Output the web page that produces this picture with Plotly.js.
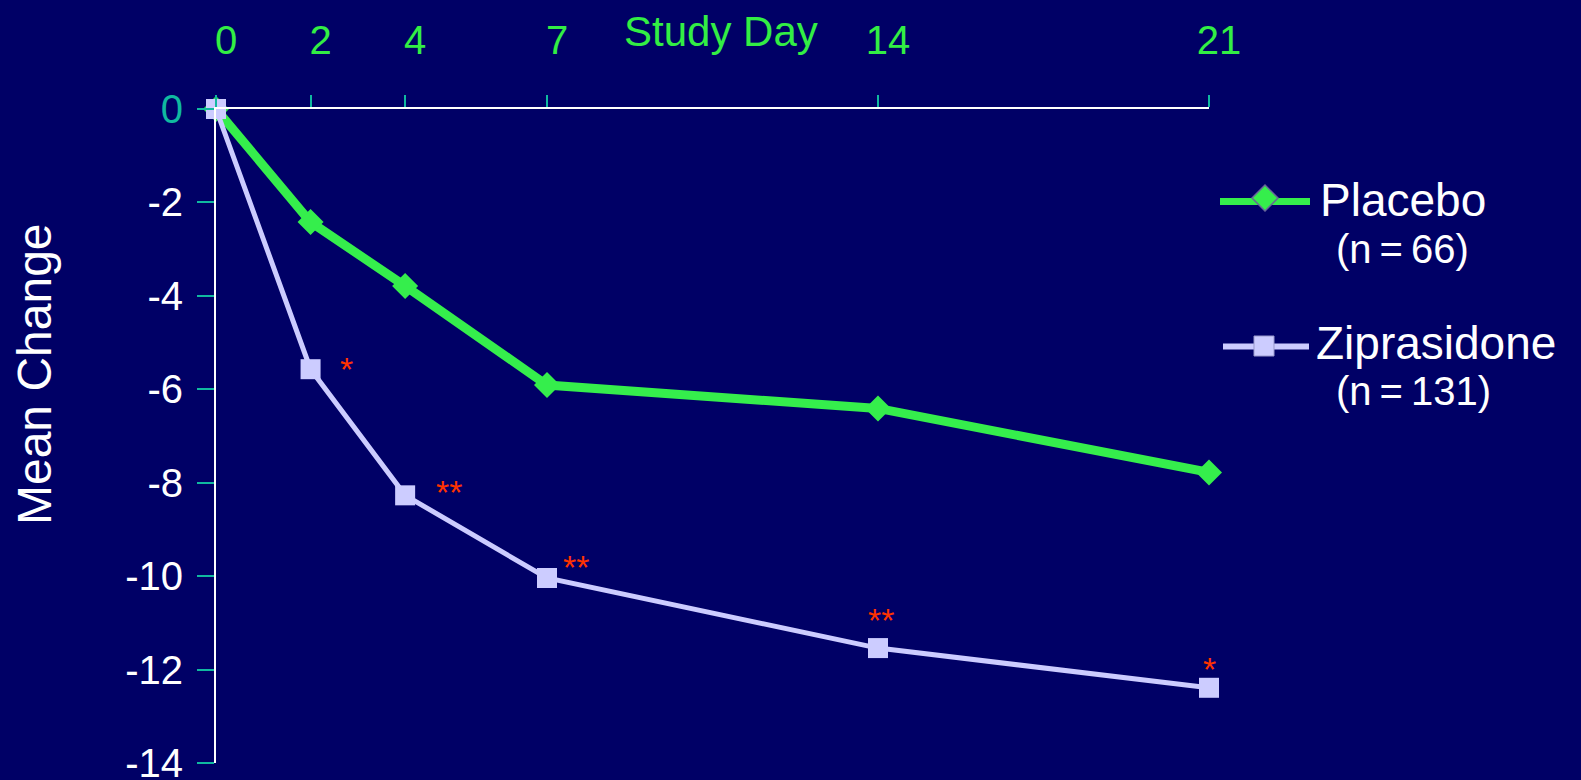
<!DOCTYPE html>
<html>
<head>
<meta charset="utf-8">
<script src="https://cdn.plot.ly/plotly-3.0.1.min.js"></script>
<style>
  html, body { margin: 0; padding: 0; background: #000066; }
  #chart { width: 1581px; height: 780px; }
</style>
</head>
<body>
<div id="chart"></div>
<script>
// ---- data ----
const studyDays = [0, 2, 4, 7, 14, 21];
const placeboValues = [0, -2.42, -3.79, -5.91, -6.41, -7.78];
const ziprasidoneValues = [0, -5.57, -8.27, -10.04, -11.54, -12.39];
const significanceMarks = ['', '*', '**', '**', '**', '*'];
const yTickValues = [0, -2, -4, -6, -8, -10, -12, -14];
const yTickLabels = ['0', '-2', '-4', '-6', '-8', '-10', '-12', '-14'];
const xTickLabels = ['0', '2', '4', '7', '14', '21'];
const seriesNames = ['Placebo', 'Ziprasidone'];
const seriesCounts = ['(n\u2009=\u200966)', '(n\u2009=\u2009131)'];
const xTitle = 'Study Day';
const yTitle = 'Mean Change';

// ---- style ----
const BG = '#000066';
const GREEN = '#35ee4c';
const GREEN_TXT = '#33ee44';
const LAVENDER = '#ccccff';
const TEAL = '#10b9a0';
const STAR = '#ff3300';
const FONT = '"Liberation Sans", Arial, Helvetica, sans-serif';

const W = 1581, H = 780;
const M = { l: 216, r: 372, t: 109, b: 17 };
const PW = W - M.l - M.r, PH = H - M.t - M.b;
const px2x = px => (px - M.l) / PW;
const px2y = py => (H - M.b - py) / PH;

const traces = [
  {
    x: studyDays, y: placeboValues, name: seriesNames[0], type: 'scatter', mode: 'lines+markers',
    line: { color: GREEN, width: 9 },
    marker: { symbol: 'diamond', size: 20, color: GREEN },
    cliponaxis: false, showlegend: false, hoverinfo: 'x+y'
  },
  {
    x: studyDays, y: ziprasidoneValues, name: seriesNames[1], type: 'scatter', mode: 'lines+markers',
    line: { color: LAVENDER, width: 5 },
    marker: { symbol: 'square', size: 20, color: LAVENDER },
    cliponaxis: false, showlegend: false, hoverinfo: 'x+y'
  }
];

// significance asterisk offsets (pixels from the Ziprasidone point)
const starShift = [[0, 0], [36, 0], [44, 3], [29, 11], [3, 28], [0, 19]];
const annotations = [];
studyDays.forEach((d, i) => {
  if (!significanceMarks[i]) return;
  annotations.push({
    x: d, y: ziprasidoneValues[i], xref: 'x', yref: 'y',
    text: significanceMarks[i], showarrow: false,
    xshift: starShift[i][0], yshift: starShift[i][1],
    font: { family: FONT, size: 34, color: STAR }
  });
});

// axis titles
annotations.push({
  x: px2x(721), y: px2y(31), xref: 'paper', yref: 'paper', text: xTitle, showarrow: false,
  xanchor: 'center', yanchor: 'middle', font: { family: FONT, size: 42, color: GREEN_TXT }
});
annotations.push({
  x: px2x(34), y: px2y(374), xref: 'paper', yref: 'paper', text: yTitle, showarrow: false,
  textangle: -90, xanchor: 'center', yanchor: 'middle', font: { family: FONT, size: 48, color: '#ffffff' }
});

// legend texts
const legendRows = [
  { name: seriesNames[0], count: seriesCounts[0], nameX: 1318, nameY: 200, countX: 1334, countY: 249, lineY: 201.5, mx: 1265, my: 198 },
  { name: seriesNames[1], count: seriesCounts[1], nameX: 1314, nameY: 343, countX: 1334, countY: 391, lineY: 346.5, mx: 1264, my: 346 }
];
legendRows.forEach(r => {
  annotations.push({
    x: px2x(r.nameX), y: px2y(r.nameY), xref: 'paper', yref: 'paper', text: r.name, showarrow: false,
    xanchor: 'left', yanchor: 'middle', font: { family: FONT, size: 46, color: '#ffffff' }
  });
  annotations.push({
    x: px2x(r.countX), y: px2y(r.countY), xref: 'paper', yref: 'paper', text: r.count, showarrow: false,
    xanchor: 'left', yanchor: 'middle', font: { family: FONT, size: 40, color: '#ffffff' }
  });
});

const shapes = [
  // placebo legend sample
  { type: 'line', xref: 'paper', yref: 'paper', x0: px2x(1220), x1: px2x(1310), y0: px2y(legendRows[0].lineY), y1: px2y(legendRows[0].lineY),
    line: { color: GREEN, width: 7 } },
  { type: 'path', xref: 'paper', yref: 'paper', xsizemode: 'pixel', ysizemode: 'pixel',
    xanchor: px2x(legendRows[0].mx), yanchor: px2y(legendRows[0].my),
    path: 'M -13 0 L 0 13 L 13 0 L 0 -13 Z', fillcolor: GREEN, line: { color: '#666699', width: 1.5 } },
  // ziprasidone legend sample
  { type: 'line', xref: 'paper', yref: 'paper', x0: px2x(1223), x1: px2x(1309), y0: px2y(legendRows[1].lineY), y1: px2y(legendRows[1].lineY),
    line: { color: LAVENDER, width: 6 } },
  { type: 'rect', xref: 'paper', yref: 'paper', xsizemode: 'pixel', ysizemode: 'pixel',
    xanchor: px2x(legendRows[1].mx), yanchor: px2y(legendRows[1].my),
    x0: -10, x1: 10, y0: -10, y1: 10, fillcolor: LAVENDER, line: { color: '#9999cc', width: 1 } }
];

const layout = {
  width: W, height: H,
  margin: M,
  paper_bgcolor: BG, plot_bgcolor: BG,
  showlegend: false,
  font: { family: FONT, color: '#ffffff' },
  xaxis: {
    range: [0, 21], side: 'top', showgrid: false, zeroline: false,
    showline: true, linecolor: '#ffffff', linewidth: 2,
    tickmode: 'array', tickvals: studyDays, ticktext: xTickLabels,
    ticks: 'outside', ticklen: 12, tickwidth: 2, tickcolor: TEAL,
    ticklabelstandoff: 25, ticklabelshift: 10,
    tickfont: { family: FONT, size: 40, color: GREEN_TXT }
  },
  yaxis: {
    range: [-14, 0], showgrid: false, zeroline: false,
    showline: true, linecolor: '#ffffff', linewidth: 2,
    tickmode: 'array', tickvals: yTickValues,
    ticktext: yTickLabels.map((t, i) => i === 0 ? '<span style="color:' + TEAL + '">' + t + '</span>' : t),
    ticks: 'outside', ticklen: 17, tickwidth: 2, tickcolor: TEAL,
    ticklabelstandoff: 6, ticklabeloverflow: 'allow',
    tickfont: { family: FONT, size: 40, color: '#ffffff' }
  },
  annotations: annotations,
  shapes: shapes
};

Plotly.newPlot('chart', traces, layout, { displayModeBar: false, staticPlot: true });
</script>
</body>
</html>
